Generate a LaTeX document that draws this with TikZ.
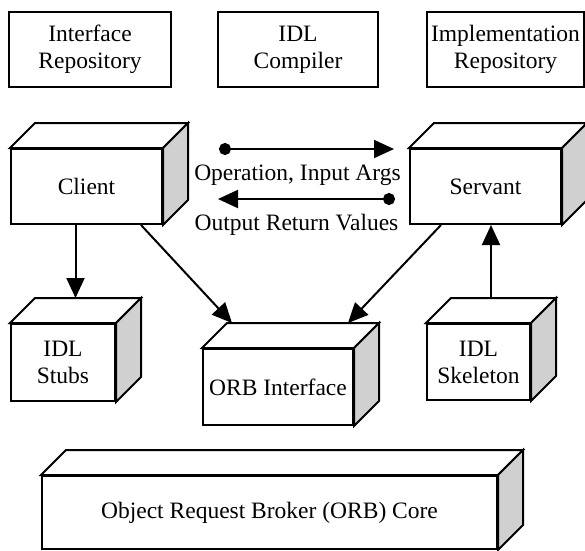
\documentclass[tikz,border=0pt]{standalone}
\usepackage{fontspec}
\setmainfont{Liberation Serif}
\usetikzlibrary{arrows.meta}
\definecolor{sidegray}{RGB}{208,208,208}

% Adds the top and right faces to a box node and names the midpoint of its back top edge
\newcommand\extrude[1]{%
  \draw[boxline,fill=white] (#1.north west) -- ++(25,-25)
    -- ([shift={(25,-25)}]#1.north east) -- (#1.north east) -- cycle;
  \draw[boxline,fill=sidegray] (#1.north east) -- ++(25,-25)
    -- ([shift={(25,-25)}]#1.south east) -- (#1.south east) -- cycle;
  \coordinate (#1-back) at ([shift={(12.5,-25)}]#1.north);
}

\tikzset{
  boxline/.style={draw=black, line width=2pt, line join=miter},
  flatbox/.style={boxline, fill=white, inner sep=0pt, align=center,
    font=\fontsize{23.5}{27}\selectfont},
  label/.style={inner sep=0pt, anchor=base, font=\fontsize{23.5}{27}\selectfont},
  tip/.tip={Triangle[length=20pt 0 0,width=18pt 0 0]},
  arr/.style={line width=2pt, -tip},
  dotarr/.style={line width=2pt, {Circle[length=12pt 0 0]}-tip}
}

\begin{document}
\begin{tikzpicture}[x=1pt, y=-1pt]
\useasboundingbox (0,0) rectangle (585,550);

% repositories and compiler
\node[flatbox, minimum width=162pt, minimum height=75pt] (ifr) at (90,49.5) {Interface\\Repository};
\node[flatbox, minimum width=160pt, minimum height=75pt] (idlc) at (298,49.5) {IDL\\Compiler};
\node[flatbox, minimum width=157pt, minimum height=75pt] (impr) at (505.5,49.5) {Implementation\\Repository};

% client and servant
\node[flatbox, minimum width=151pt, minimum height=75pt] (client) at (86.5,186.5) {Client};
\extrude{client}
\node[flatbox, minimum width=151pt, minimum height=75pt] (servant) at (485.5,186.5) {Servant};
\extrude{servant}

% stubs, ORB interface, skeleton
\node[flatbox, minimum width=104pt, minimum height=77pt] (stubs) at (63,362.5) {IDL\\Stubs};
\extrude{stubs}
\node[flatbox, minimum width=150pt, minimum height=76pt] (orbif) at (278,387) {ORB Interface};
\extrude{orbif}
\node[flatbox, minimum width=103pt, minimum height=76pt] (skel) at (478.5,362) {IDL\\Skeleton};
\extrude{skel}

% ORB core
\node[flatbox, minimum width=455pt, minimum height=73pt] (core) at (269.5,512.5) {Object Request Broker (ORB) Core};
\extrude{core}

% request and reply between client and servant
\coordinate (op-a) at (219,149);
\coordinate (op-b) at (394,149);
\coordinate (ret-a) at (395,199);
\coordinate (ret-b) at (218,199);
\draw[dotarr] (op-a) -- (op-b);
\draw[dotarr] (ret-a) -- (ret-b);
\node[label] (oplbl) at (297.5,180) {Operation, Input Args};
\node[label] (retlbl) at (296.5,230) {Output Return Values};

% dependencies
\draw[arr] (client.south -| stubs-back) -- (stubs-back);
\draw[arr] ([shift={(-22,0)}]client.south east) -- ([shift={(30,-25)}]orbif.north west);
\draw[arr] ([shift={(32,0)}]servant.south west) -- ([shift={(-6,-25)}]orbif.north east);
\draw[arr] (skel-back) -- (skel-back |- servant.south);
\end{tikzpicture}
\end{document}
